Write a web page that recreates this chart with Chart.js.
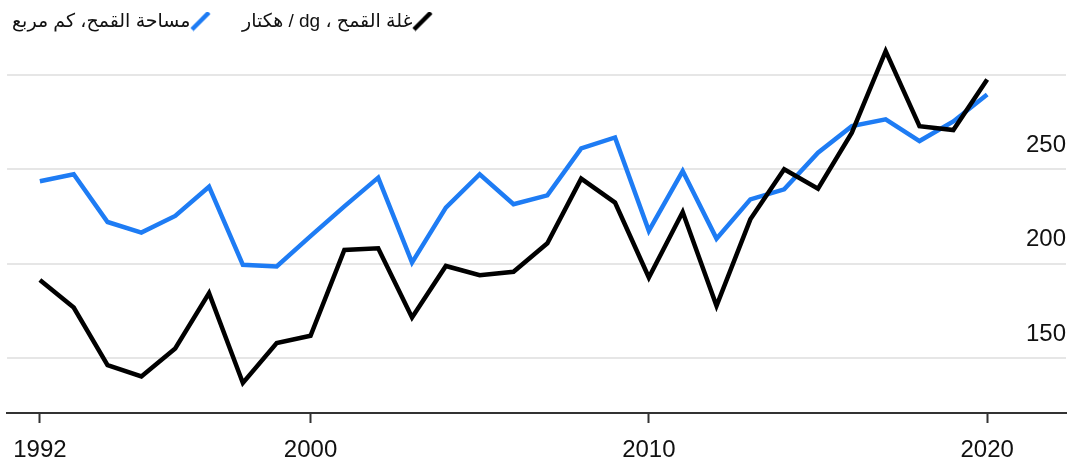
<!DOCTYPE html>
<html>
<head>
<meta charset="utf-8">
<script src="https://cdn.jsdelivr.net/npm/chart.js@4"></script>
<style>
  html, body { margin: 0; padding: 0; background: #fff; }
  #wrap { width: 1070px; height: 467px; position: relative; }
</style>
</head>
<body>
<div id="wrap"><canvas id="c" width="1070" height="467"></canvas></div>
<script>
const years = [1992,1993,1994,1995,1996,1997,1998,1999,2000,2001,2002,2003,2004,2005,2006,2007,2008,2009,2010,2011,2012,2013,2014,2015,2016,2017,2018,2019,2020];
const wheatYield = [191.4,176.8,146.3,140.3,155.1,184.4,136.8,158.0,161.8,207.3,208.2,171.5,198.8,193.9,195.7,210.8,245.1,232.4,192.7,227.4,177.7,223.5,250.0,239.8,269.4,312.6,272.9,270.8,297.6];
const wheatArea = [243.7,247.4,222.1,216.5,225.3,240.8,199.4,198.5,214.6,230.4,245.6,200.6,229.7,247.4,231.5,236.2,261.1,266.9,217.4,249.1,213.3,234.1,239.4,258.8,272.9,276.5,265.0,275.4,289.7];
const seriesNames = ['غلة القمح ، dg / هكتار', 'مساحة القمح، كم مربع'];
const xTicks = [1992, 2000, 2010, 2020];
const yTicks = [150, 200, 250, 300];
const yTickLabels = ['150', '200', '250', ''];

const BLUE = '#1e7cf4';
const BLACK = '#000000';

function makeIcon(color) {
  const c = document.createElement('canvas');
  c.width = 56; c.height = 20;
  const g = c.getContext('2d');
  g.strokeStyle = color;
  g.lineWidth = 4.5;
  g.lineCap = 'butt';
  g.beginPath();
  g.moveTo(2, 18);
  g.lineTo(19, 1);
  g.stroke();
  return c;
}

const fontFamily = "'Liberation Sans', Arial, 'DejaVu Sans', sans-serif";

new Chart(document.getElementById('c'), {
  type: 'line',
  data: {
    datasets: [
      {
        label: seriesNames[0],
        data: years.map((yr, i) => ({ x: yr, y: wheatYield[i] })),
        borderColor: BLACK,
        backgroundColor: BLACK,
        borderWidth: 4.5,
        pointRadius: 0,
        tension: 0,
        borderJoinStyle: 'miter',
        pointStyle: makeIcon(BLACK)
      },
      {
        label: seriesNames[1],
        data: years.map((yr, i) => ({ x: yr, y: wheatArea[i] })),
        borderColor: BLUE,
        backgroundColor: BLUE,
        borderWidth: 4.5,
        pointRadius: 0,
        tension: 0,
        borderJoinStyle: 'miter',
        pointStyle: makeIcon(BLUE)
      }
    ]
  },
  options: {
    responsive: false,
    animation: false,
    events: [],
    layout: { padding: { top: 6, left: 6, right: 4, bottom: 0 } },
    plugins: {
      tooltip: { enabled: false },
      legend: {
        display: true,
        position: 'top',
        align: 'end',
        rtl: true,
        textDirection: 'rtl',
        labels: {
          usePointStyle: true,
          pointStyleWidth: 36,
          boxHeight: 20,
          padding: 6,
          color: '#111',
          font: { family: fontFamily, size: 19 }
        }
      }
    },
    scales: {
      x: {
        type: 'linear',
        min: 1991.03,
        max: 2022.33,
        afterBuildTicks: (s) => { s.ticks = xTicks.map(v => ({ value: v })); },
        afterFit: (s) => { s.height = 54; },
        grid: {
          drawOnChartArea: false,
          drawTicks: true,
          tickLength: 10,
          tickColor: '#333',
          tickWidth: 2
        },
        border: { display: true, color: '#333', width: 2 },
        ticks: {
          padding: 13,
          color: '#111',
          maxRotation: 0,
          autoSkip: false,
          font: { family: fontFamily, size: 24 },
          callback: (v) => String(v)
        }
      },
      y: {
        type: 'linear',
        position: 'right',
        min: 120.9,
        max: 318,
        afterBuildTicks: (s) => { s.ticks = yTicks.map(v => ({ value: v })); },
        grid: {
          drawTicks: false,
          color: '#e6e6e6',
          lineWidth: 2
        },
        border: { display: false },
        ticks: {
          mirror: true,
          padding: 0,
          labelOffset: -24,
          color: '#111',
          font: { family: fontFamily, size: 24 },
          callback: (v) => yTickLabels[yTicks.indexOf(v)] ?? ''
        }
      }
    }
  }
});
</script>
</body>
</html>
